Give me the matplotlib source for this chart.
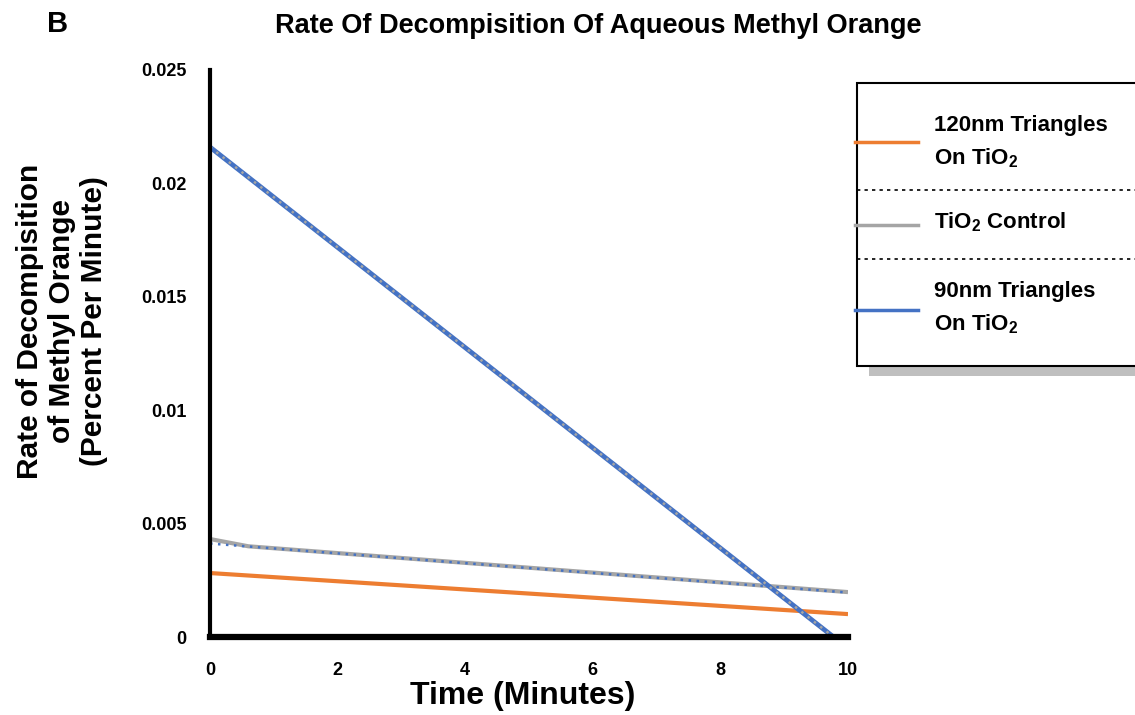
import numpy as np
import matplotlib.pyplot as plt
from matplotlib.patches import Rectangle

plt.rcParams['font.family'] = ['Liberation Sans', 'DejaVu Sans']
plt.rcParams['mathtext.fontset'] = 'custom'
plt.rcParams['mathtext.rm'] = 'Liberation Sans:bold'
plt.rcParams['mathtext.it'] = 'Liberation Sans:bold'
plt.rcParams['mathtext.bf'] = 'Liberation Sans:bold'

# --- datos ---
x_120 = [0, 10]
y_120 = [0.00282, 0.00101]

x_ctrl = [0, 0.6, 10]
y_ctrl = [0.00432, 0.00400, 0.00198]
trend_ctrl = [0.00412, 0.00196]   # línea de tendencia (punteada azul)

x_90 = [0, 10]
y_90 = [0.0216, -0.0005]
trend_90 = [0.0216, -0.0005]      # línea de tendencia (punteada gris)

xticks = [0, 2, 4, 6, 8, 10]
yticks = [0, 0.005, 0.01, 0.015, 0.02, 0.025]
ytick_labels = ['0', '0.005', '0.01', '0.015', '0.02', '0.025']

c_orange = '#ED7D31'
c_gray = '#A5A5A5'
c_blue = '#4472C4'

W, H = 1135, 715
fig = plt.figure(figsize=(11.35, 7.15), dpi=100)
ax = fig.add_axes([210/W, 1 - 637/H, (848-210)/W, (637-70)/H])

ax.plot(x_120, y_120, color=c_orange, lw=3, solid_capstyle='butt')
ax.plot(x_ctrl, y_ctrl, color=c_gray, lw=3, solid_capstyle='butt')
ax.plot([x_ctrl[0], x_ctrl[-1]], trend_ctrl, color=c_blue, lw=1.8, ls=(0, (1, 2.2)))
ax.plot(x_90, y_90, color=c_blue, lw=3.5, solid_capstyle='butt')
ax.plot(x_90, trend_90, color=c_gray, lw=1.8, ls=(0, (1, 2.2)))

ax.set_xlim(0, 10)
ax.set_ylim(0, 0.025)
ax.set_xticks(xticks)
ax.set_xticklabels([str(v) for v in xticks], fontweight='bold', fontsize=13)
ax.set_yticks(yticks)
ax.set_yticklabels(ytick_labels, fontweight='bold', fontsize=13)
ax.tick_params(length=0)
ax.tick_params(axis='y', pad=17)
ax.tick_params(axis='x', pad=18)
for s in ['top', 'right']:
    ax.spines[s].set_visible(False)
ax.spines['left'].set_linewidth(3)
ax.spines['bottom'].set_linewidth(4.5)

fig.text(523/W, 1 - 696/H, 'Time (Minutes)', ha='center', va='center',
         fontsize=23, fontweight='bold')
fig.text(62/W, 1 - 321/H, 'Rate of Decompisition\nof Methyl Orange\n(Percent Per Minute)',
         ha='center', va='center', rotation=90, multialignment='center',
         fontsize=21.5, fontweight='bold', linespacing=1.2)

fig.text(598/W, 1 - 26/H, 'Rate Of Decompisition Of Aqueous Methyl Orange',
         ha='center', va='center', fontsize=19.5, fontweight='bold')
fig.text(58/W, 1 - 24/H, 'B', ha='center', va='center', fontsize=21, fontweight='bold')

# --- leyenda dibujada a mano (coordenadas en píxeles) ---
lg = fig.add_axes([0, 0, 1, 1], zorder=5)
lg.set_xlim(0, W)
lg.set_ylim(H, 0)
lg.axis('off')
lg.add_patch(Rectangle((869, 366), 280, 10, color='#BFBFBF', lw=0))
lg.add_patch(Rectangle((857, 83), 290, 283, facecolor='white', edgecolor='black', lw=1.5))
lg.plot([857, 1135], [190, 190], color='black', lw=1.2, ls=(0, (2, 2.5)))
lg.plot([857, 1135], [259, 259], color='black', lw=1.2, ls=(0, (2, 2.5)))
lg.plot([855, 918], [142, 142], color=c_orange, lw=2.5)
lg.plot([855, 918], [225, 225], color=c_gray, lw=2.5)
lg.plot([855, 918], [310, 310], color=c_blue, lw=2.5)
kw = dict(fontsize=16, fontweight='bold', va='center', ha='left')
lg.text(934, 125, '120nm Triangles', **kw)
lg.text(934, 158, 'On TiO$_2$', **kw)
lg.text(934, 222, 'TiO$_2$ Control', **kw)
lg.text(934, 291, '90nm Triangles', **kw)
lg.text(934, 324, 'On TiO$_2$', **kw)

plt.savefig('out.png', dpi=100)
